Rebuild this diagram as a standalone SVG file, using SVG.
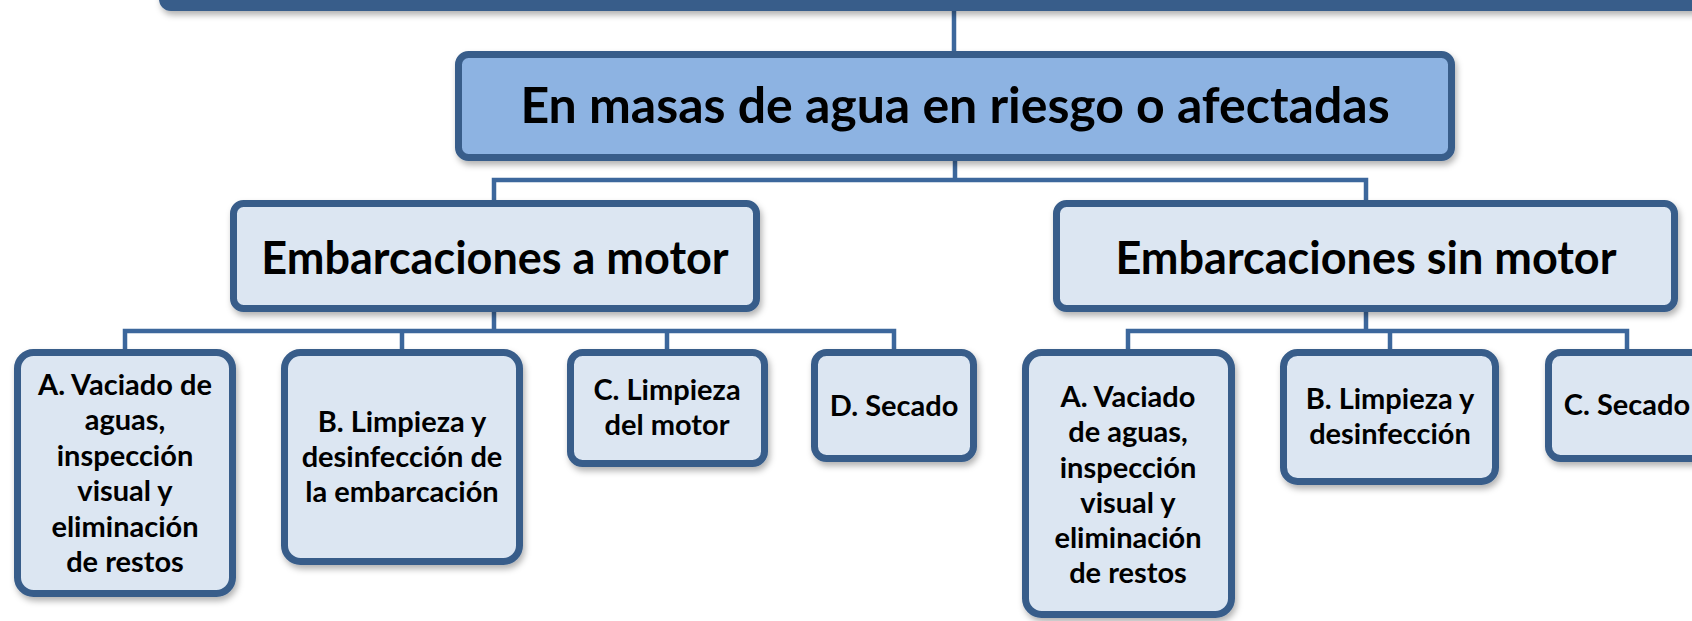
<svg xmlns="http://www.w3.org/2000/svg" width="1692" height="621" viewBox="0 0 1692 621">
  <defs>
    <filter id="sh" x="-10%" y="-10%" width="120%" height="130%">
      <feDropShadow dx="2" dy="4" stdDeviation="3" flood-color="#000" flood-opacity="0.3"/>
    </filter>
  </defs>
  <style>
    .box { fill: #DCE6F2; stroke: #385D8A; stroke-width: 7; filter: url(#sh); }
    .main { fill: #8DB3E2; }
    .conn { fill: none; stroke: #3C679C; stroke-width: 4.5; stroke-linejoin: miter; }
    text { font-family: Lato, "Liberation Sans", sans-serif; font-weight: bold; fill: #000; text-anchor: middle; }
    .title { font-size: 50px; }
    .big { font-size: 45px; }
    .small { font-size: 29px; }
  </style>

  <g id="connectors">
    <path class="conn" d="M954 8 V54"/>
    <path class="conn" d="M955 158 V180 M494 203 V180 H1366 V203"/>
    <path class="conn" d="M494 309 V331 M125 350 V331 H894 V350 M402 331 V350 M667 331 V350"/>
    <path class="conn" d="M1366 309 V331 M1128 350 V331 H1627 V350 M1390 331 V350"/>
  </g>

  <g id="top-bar">
    <rect x="159" y="-90" width="1620" height="101" rx="12" fill="#385D8A" filter="url(#sh)"/>
  </g>

  <g id="main-node">
    <rect class="box main" x="458.5" y="54.5" width="993" height="103" rx="10"/>
    <text class="title" x="955" y="123">En masas de agua en riesgo o afectadas</text>
  </g>

  <g id="motor">
    <rect class="box" x="233.5" y="203.5" width="523" height="105" rx="10"/>
    <text class="big" x="495" y="274">Embarcaciones a motor</text>
  </g>

  <g id="sin-motor">
    <rect class="box" x="1056.5" y="203.5" width="618" height="105" rx="10"/>
    <text class="big" x="1366" y="274">Embarcaciones sin motor</text>
  </g>

  <g id="motor-a">
    <rect class="box" x="17.5" y="352.5" width="215" height="241" rx="16"/>
    <text class="small" x="125"><tspan x="125" y="395">A. Vaciado de</tspan><tspan x="125" y="430">aguas,</tspan><tspan x="125" y="466">inspección</tspan><tspan x="125" y="501">visual y</tspan><tspan x="125" y="537">eliminación</tspan><tspan x="125" y="572">de restos</tspan></text>
  </g>

  <g id="motor-b">
    <rect class="box" x="284.5" y="352.5" width="235" height="209" rx="16"/>
    <text class="small" x="402"><tspan x="402" y="432">B. Limpieza y</tspan><tspan x="402" y="467">desinfección de</tspan><tspan x="402" y="502">la embarcación</tspan></text>
  </g>

  <g id="motor-c">
    <rect class="box" x="570.5" y="352.5" width="194" height="111" rx="12"/>
    <text class="small" x="667"><tspan x="667" y="400">C. Limpieza</tspan><tspan x="667" y="435">del motor</tspan></text>
  </g>

  <g id="motor-d">
    <rect class="box" x="814.5" y="352.5" width="159" height="106" rx="12"/>
    <text class="small" x="894" y="416">D. Secado</text>
  </g>

  <g id="sin-a">
    <rect class="box" x="1025.5" y="352.5" width="206" height="262" rx="16"/>
    <text class="small" x="1128"><tspan x="1128" y="407">A. Vaciado</tspan><tspan x="1128" y="442">de aguas,</tspan><tspan x="1128" y="478">inspección</tspan><tspan x="1128" y="513">visual y</tspan><tspan x="1128" y="548">eliminación</tspan><tspan x="1128" y="583">de restos</tspan></text>
  </g>

  <g id="sin-b">
    <rect class="box" x="1283.5" y="352.5" width="212" height="129" rx="14"/>
    <text class="small" x="1390"><tspan x="1390" y="409">B. Limpieza y</tspan><tspan x="1390" y="444">desinfección</tspan></text>
  </g>

  <g id="sin-c">
    <rect class="box" x="1548.5" y="352.5" width="170" height="106" rx="12"/>
    <text class="small" x="1627" y="415">C. Secado</text>
  </g>
</svg>
